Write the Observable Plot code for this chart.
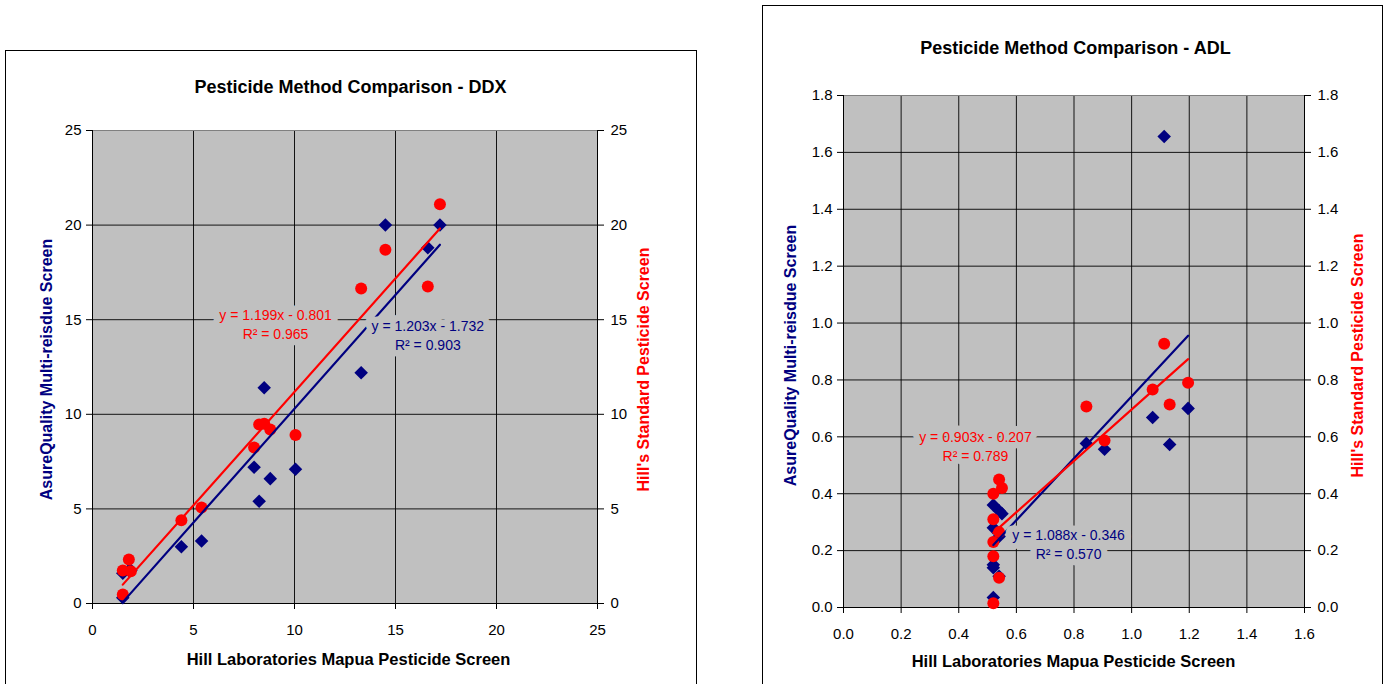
<!DOCTYPE html>
<html><head><meta charset="utf-8">
<script src="https://cdn.jsdelivr.net/npm/d3@7"></script>
<script src="https://cdn.jsdelivr.net/npm/@observablehq/plot@0.6"></script>
<style>
html,body{margin:0;padding:0;background:#fff;width:1389px;height:684px;overflow:hidden;font-family:"Liberation Sans",Arial,sans-serif;}
.box{position:absolute;border:1px solid #000;box-sizing:border-box;pointer-events:none;}
#ddx{position:absolute;left:0;top:0;}
#adl{position:absolute;left:730px;top:0;}
</style></head><body>
<div id="ddx"></div><div id="adl"></div>
<div class="box" style="left:5px;top:50px;width:692px;height:700px"></div>
<div class="box" style="left:762px;top:5px;width:621px;height:740px"></div>
<script>
// ---------- DDX data ----------
const ddxHill  = [1.5, 1.5, 1.8, 1.9, 4.4, 5.4, 8.0, 8.25, 8.5, 8.8, 10.05, 13.3, 14.5, 16.6, 17.2];
const ddxAsure = [1.6, 0.3, 1.75, 1.75, 3.0, 3.3, 7.2, 5.4, 11.4, 6.6, 7.1, 12.2, 20.0, 18.8, 20.0];
const ddxStd   = [1.74, 0.48, 2.33, 1.7, 4.4, 5.07, 8.25, 9.46, 9.5, 9.2, 8.9, 16.65, 18.7, 16.75, 21.1];
const ddxTicks = [0, 5, 10, 15, 20, 25];
const ddxFitAsure = {m: 1.203, b: -1.732, label: "y = 1.203x - 1.732\nR² = 0.903"};
const ddxFitStd   = {m: 1.199, b: -0.801, label: "y = 1.199x - 0.801\nR² = 0.965"};
// ---------- ADL data ----------
const adlHill  = [0.52, 0.52, 0.52, 0.52, 0.52, 0.54, 0.55, 0.54, 0.54, 0.843, 0.906, 1.073, 1.113, 1.132, 1.196];
const adlAsure = [0.36, 0.28, 0.15, 0.14, 0.035, 0.34, 0.33, 0.11, 0.25, 0.577, 0.556, 0.668, 1.656, 0.573, 0.70];
const adlStd   = [0.40, 0.31, 0.23, 0.18, 0.015, 0.45, 0.42, 0.105, 0.265, 0.707, 0.587, 0.766, 0.927, 0.714, 0.79];
const adlXTicks = [0, 0.2, 0.4, 0.6, 0.8, 1.0, 1.2, 1.4, 1.6];
const adlYTicks = [0, 0.2, 0.4, 0.6, 0.8, 1.0, 1.2, 1.4, 1.6, 1.8];
const adlFitAsure = {m: 1.088, b: -0.346, label: "y = 1.088x - 0.346\nR² = 0.570"};
const adlFitStd   = {m: 0.903, b: -0.207, label: "y = 0.903x - 0.207\nR² = 0.789"};

const NAVY = "#000080", RED = "#ff0000", BG = "#c0c0c0";

function chart(c) {
  const A = c.hill.map((x, i) => ({x, y: c.asure[i]}));
  const S = c.hill.map((x, i) => ({x, y: c.std[i]}));
  const xr = [d3.min(c.hill), d3.max(c.hill)];
  const lA = xr.map(x => ({x, y: c.fitA.m * x + c.fitA.b}));
  const lS = xr.map(x => ({x, y: c.fitS.m * x + c.fitS.b}));
  const xd = [c.xTicks[0], c.xTicks[c.xTicks.length - 1]];
  const yd = [c.yTicks[0], c.yTicks[c.yTicks.length - 1]];
  const labelOpts = {fontSize: 14, lineHeight: 1.35, stroke: BG, strokeWidth: 13, strokeLinejoin: "round", paintOrder: "stroke", text: "t"};
  return Plot.plot({
    width: c.w, height: 684,
    marginLeft: c.ml, marginRight: c.mr, marginTop: c.mt, marginBottom: c.mb,
    style: {background: "transparent", fontFamily: '"Liberation Sans", Arial, sans-serif', fontSize: "15px", color: "#000", overflow: "visible"},
    x: {domain: xd, label: null},
    y: {domain: yd, label: null},
    marks: [
      Plot.frame({fill: BG}),
      Plot.gridX({ticks: c.xTicks, stroke: "#000", strokeOpacity: 0.9}),
      Plot.gridY({ticks: c.yTicks, stroke: "#000", strokeOpacity: 0.9}),
      Plot.frame({stroke: "#808080"}),
      Plot.ruleX([xd[0], xd[1]], {stroke: "#000"}),
      Plot.ruleY([yd[0]], {stroke: "#000"}),
      Plot.axisX({ticks: c.xTicks, tickFormat: c.fmt, tickSize: 6, tickPadding: 15, label: null, fontSize: 15}),
      Plot.axisY({anchor: "left", ticks: c.yTicks, tickFormat: c.fmt, tickSize: 6, tickPadding: 5, label: null, fontSize: 15}),
      Plot.axisY({anchor: "right", ticks: c.yTicks, tickFormat: c.fmt, tickSize: 6, tickPadding: 7, label: null, fontSize: 15}),
      Plot.dot(A, {x: "x", y: "y", symbol: "diamond2", r: 6.1, fill: NAVY, stroke: "none"}),
      Plot.dot(S, {x: "x", y: "y", r: 6, fill: RED, stroke: "none"}),
      Plot.line(lA, {x: "x", y: "y", stroke: NAVY, strokeWidth: 2.2}),
      Plot.line(lS, {x: "x", y: "y", stroke: RED, strokeWidth: 2.2}),
      Plot.text([{x: c.labS[0], y: c.labS[1], t: c.fitS.label}], {x: "x", y: "y", fill: RED, ...labelOpts}),
      Plot.text([{x: c.labA[0], y: c.labA[1], t: c.fitA.label}], {x: "x", y: "y", fill: NAVY, ...labelOpts}),
      Plot.text([c.title], {text: d => d, frameAnchor: "top", lineAnchor: "middle", dx: c.titleDx, dy: c.titleDy, fontWeight: "bold", fontSize: 18}),
      Plot.text(["Hill Laboratories Mapua Pesticide Screen"], {text: d => d, frameAnchor: "bottom", lineAnchor: "middle", dx: c.titleDx - 2, dy: c.xTitleDy, fontWeight: "bold", fontSize: 16.5}),
      Plot.text(["AsureQuality Multi-reisdue Screen"], {text: d => d, frameAnchor: "left", lineAnchor: "middle", textAnchor: "middle", rotate: -90, dx: -c.yTitleDx, dy: c.yTitleDy, fontWeight: "bold", fontSize: 16, fill: NAVY}),
      Plot.text(["Hill's Standard Pesticide Screen"], {text: d => d, frameAnchor: "right", lineAnchor: "middle", textAnchor: "middle", rotate: -90, dx: c.yTitleDx, dy: c.yTitleDy, fontWeight: "bold", fontSize: 16, fill: RED})
    ]
  });
}

document.getElementById("ddx").append(chart({
  hill: ddxHill, asure: ddxAsure, std: ddxStd, xTicks: ddxTicks, yTicks: ddxTicks, fmt: d3.format("d"),
  fitA: ddxFitAsure, fitS: ddxFitStd, labA: [16.6, 14.24], labS: [9.06, 14.8],
  title: "Pesticide Method Comparison - DDX",
  w: 730, ml: 92, mr: 133, mt: 130, mb: 81, titleDx: 5.5, titleDy: -43, xTitleDy: 56, yTitleDx: 46, yTitleDy: 2.5
}));
document.getElementById("adl").append(chart({
  hill: adlHill, asure: adlAsure, std: adlStd, xTicks: adlXTicks, yTicks: adlYTicks, fmt: d3.format(".1f"),
  fitA: adlFitAsure, fitS: adlFitStd, labA: [0.781, 0.225], labS: [0.458, 0.570],
  title: "Pesticide Method Comparison - ADL",
  w: 659, ml: 113, mr: 85, mt: 95, mb: 77, titleDx: 1.5, titleDy: -47, xTitleDy: 54, yTitleDx: 53, yTitleDy: 4
}));
</script></body></html>
